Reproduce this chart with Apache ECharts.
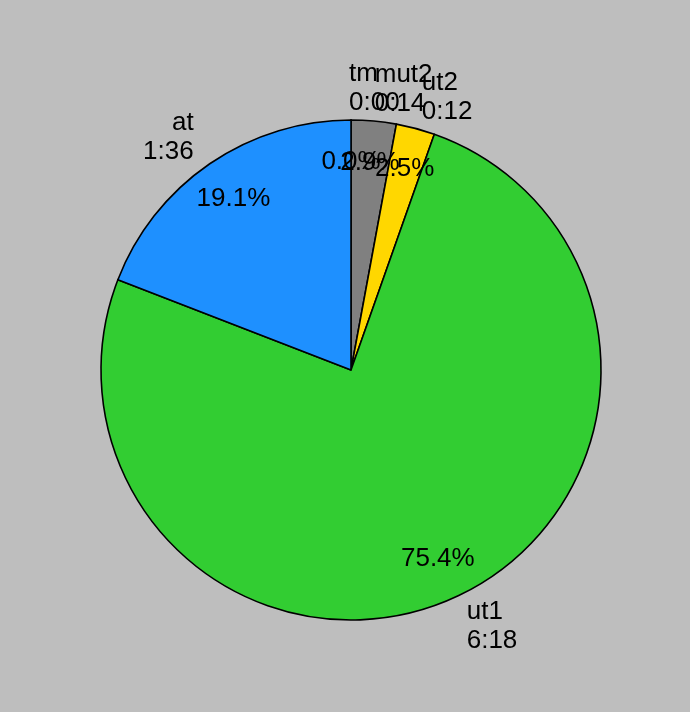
<!DOCTYPE html>
<html>
<head>
<meta charset="utf-8">
<script src="https://cdn.jsdelivr.net/npm/echarts@6/dist/echarts.min.js"></script>
<style>
  html, body { margin: 0; padding: 0; background: #bebebe; }
  #chart { width: 690px; height: 712px; }
</style>
</head>
<body>
<div id="chart"></div>
<script>
// Data
const categories = ['tm', 'mut2', 'ut2', 'ut1', 'at'];
const percents   = [0.0, 2.9, 2.5, 75.4, 19.1];
const timeLabels = ['0:00', '0:14', '0:12', '6:18', '1:36'];
const colors     = ['#808080', '#808080', '#ffd700', '#32cd32', '#1e90ff'];

const FONT = 'Liberation Sans, Arial, Helvetica, sans-serif';
const R = 250;
const CENTER = [351, 370];

const mainData = categories.map((c, i) => ({
  name: c,
  value: percents[i],
  itemStyle: { color: colors[i] }
}));
const pctData = categories.map((c, i) => ({ name: c, value: percents[i] }));

const chart = echarts.init(document.getElementById('chart'), null, { renderer: 'canvas' });
chart.setOption({
  backgroundColor: '#bebebe',
  animation: false,
  series: [
    {
      type: 'pie',
      center: CENTER,
      radius: [0, R],
      startAngle: 89.99,
      clockwise: true,
      avoidLabelOverlap: false,
      labelLayout: { hideOverlap: false },
      silent: true,
      data: mainData,
      itemStyle: { borderColor: '#000', borderWidth: 1.6 },
      label: {
        show: true,
        position: 'outside',
        distanceToLabelLine: -2,
        formatter: p => p.name + '\n' + timeLabels[p.dataIndex],
        color: '#000',
        fontFamily: FONT,
        fontSize: 26,
        lineHeight: 29
      },
      labelLine: { show: false, length: 32, length2: 0 },
      emphasis: { disabled: true }
    },
    {
      type: 'pie',
      center: CENTER,
      radius: [R * 0.64, R],
      startAngle: 89.99,
      clockwise: true,
      avoidLabelOverlap: false,
      labelLayout: { hideOverlap: false },
      silent: true,
      data: pctData,
      itemStyle: { color: 'rgba(0,0,0,0)', borderWidth: 0 },
      label: {
        show: true,
        position: 'inside',
        formatter: p => percents[p.dataIndex].toFixed(1) + '%',
        color: '#000',
        fontFamily: FONT,
        fontSize: 26
      },
      labelLine: { show: false },
      emphasis: { disabled: true }
    }
  ]
});
</script>
</body>
</html>
